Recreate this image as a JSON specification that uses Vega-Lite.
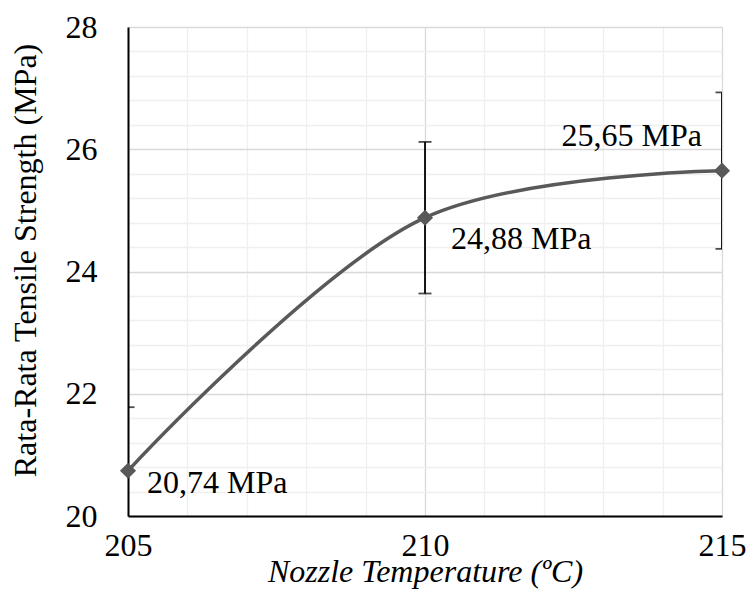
{
  "$schema": "https://vega.github.io/schema/vega-lite/v6.json",
  "width": 594,
  "height": 489,
  "autosize": {"type": "none"},
  "padding": {"left": 128, "top": 27, "right": 24, "bottom": 92},
  "background": "white",
  "config": {
    "view": {"stroke": null},
    "font": "Liberation Serif",
    "text": {"font": "Liberation Serif"},
    "axis": {"labelFont": "Liberation Serif", "titleFont": "Liberation Serif", "labelColor": "#000000", "titleColor": "#000000", "titleFontWeight": "normal"}
  },
  "data": {
    "values": [
      {"temp": 205, "mean": 20.74, "lo": 19.70, "hi": 21.78, "label": "20,74 MPa"},
      {"temp": 210, "mean": 24.88, "lo": 23.64, "hi": 26.12, "label": "24,88 MPa"},
      {"temp": 215, "mean": 25.65, "lo": 24.37, "hi": 26.93, "label": "25,65 MPa"}
    ]
  },
  "resolve": {"axis": {"x": "independent", "y": "independent"}},
  "layer": [
    {
      "mark": {"type": "line", "interpolate": "catmull-rom", "color": "#595959", "strokeWidth": 3.5, "clip": true},
      "encoding": {
        "x": {"field": "temp", "type": "quantitative", "scale": {"domain": [205, 215], "nice": false, "zero": false},
          "axis": {"orient": "top", "values": [206, 207, 208, 209, 211, 212, 213, 214], "grid": true, "gridColor": "#efefef", "gridWidth": 1.3, "labels": false, "ticks": false, "domain": false, "title": null}},
        "y": {"field": "mean", "type": "quantitative", "scale": {"domain": [20, 28], "nice": false, "zero": false},
          "axis": {"orient": "right", "values": [20.4, 20.8, 21.2, 21.6, 22.4, 22.8, 23.2, 23.6, 24.4, 24.8, 25.2, 25.6, 26.4, 26.8, 27.2, 27.6], "grid": true, "gridColor": "#efefef", "gridWidth": 1.3, "labels": false, "ticks": false, "domain": false, "title": null}}
      }
    },
    {
      "mark": {"type": "rule", "color": "#000000", "strokeWidth": 1.8, "clip": true},
      "encoding": {
        "x": {"field": "temp", "type": "quantitative", "axis": null},
        "y": {"field": "lo", "type": "quantitative", "axis": null},
        "y2": {"field": "hi"}
      }
    },
    {
      "mark": {"type": "tick", "orient": "horizontal", "color": "#000000", "size": 13, "thickness": 1.8, "clip": true},
      "encoding": {
        "x": {"field": "temp", "type": "quantitative", "axis": null},
        "y": {"field": "lo", "type": "quantitative", "axis": null}
      }
    },
    {
      "mark": {"type": "tick", "orient": "horizontal", "color": "#000000", "size": 13, "thickness": 1.8, "clip": true},
      "encoding": {
        "x": {"field": "temp", "type": "quantitative", "axis": null},
        "y": {"field": "hi", "type": "quantitative", "axis": null}
      }
    },
    {
      "mark": {"type": "point", "shape": "diamond", "filled": true, "color": "#595959", "opacity": 1, "size": 260},
      "encoding": {
        "x": {"field": "temp", "type": "quantitative",
          "axis": {"orient": "bottom", "values": [205, 210, 215], "grid": true, "gridColor": "#d9d9d9", "gridWidth": 1.3, "ticks": false, "tickSize": 0, "domain": true, "domainColor": "#000000", "domainWidth": 2, "labelFontSize": 32, "labelPadding": 14, "labelFlush": false, "labelOverlap": false,
            "title": "Nozzle Temperature (ºC)", "titleFontSize": 32, "titleFontStyle": "italic", "titleX": 297, "titleY": 65, "titleBaseline": "alphabetic", "titleAlign": "center"}},
        "y": {"field": "mean", "type": "quantitative",
          "axis": {"orient": "left", "values": [20, 22, 24, 26, 28], "grid": true, "gridColor": "#d9d9d9", "gridWidth": 1.3, "ticks": false, "tickSize": 0, "domain": true, "domainColor": "#000000", "domainWidth": 2, "labelFontSize": 32, "labelPadding": 31, "labelFlush": false, "labelOverlap": false,
            "title": "Rata-Rata Tensile Strength (MPa)", "titleFontSize": 32, "titleX": -93, "titleY": 233, "titleAngle": -90, "titleBaseline": "alphabetic", "titleAlign": "center"}}
      }
    },
    {
      "transform": [{"filter": "datum.temp == 205"}],
      "mark": {"type": "text", "align": "left", "baseline": "alphabetic", "dx": 19, "dy": 22, "fontSize": 32, "color": "#000000"},
      "encoding": {
        "x": {"field": "temp", "type": "quantitative", "axis": null},
        "y": {"field": "mean", "type": "quantitative", "axis": null},
        "text": {"field": "label"}
      }
    },
    {
      "transform": [{"filter": "datum.temp == 210"}],
      "mark": {"type": "text", "align": "left", "baseline": "alphabetic", "dx": 26, "dy": 31, "fontSize": 32, "color": "#000000"},
      "encoding": {
        "x": {"field": "temp", "type": "quantitative", "axis": null},
        "y": {"field": "mean", "type": "quantitative", "axis": null},
        "text": {"field": "label"}
      }
    },
    {
      "transform": [{"filter": "datum.temp == 215"}],
      "mark": {"type": "text", "align": "right", "baseline": "alphabetic", "dx": -20, "dy": -25, "fontSize": 32, "color": "#000000"},
      "encoding": {
        "x": {"field": "temp", "type": "quantitative", "axis": null},
        "y": {"field": "mean", "type": "quantitative", "axis": null},
        "text": {"field": "label"}
      }
    }
  ]
}
